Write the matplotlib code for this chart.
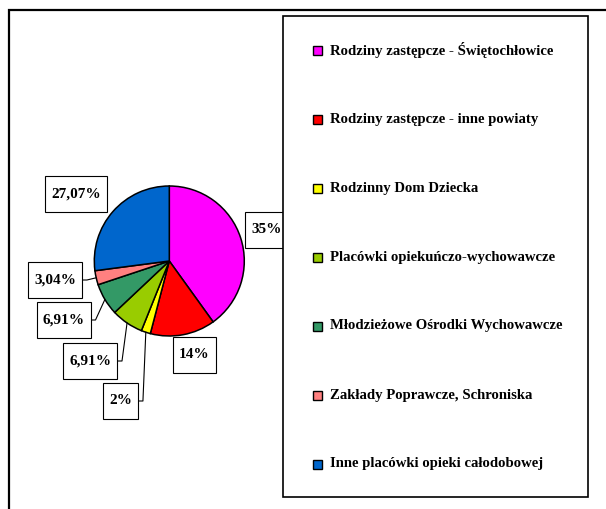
import numpy as np
import matplotlib
matplotlib.use("Agg")
import matplotlib.pyplot as plt
from matplotlib.patches import Rectangle

# slice shares (pie geometry) and the labels printed on the chart
categories = ["Rodziny zastępcze - Świętochłowice",
              "Rodziny zastępcze - inne powiaty",
              "Rodzinny Dom Dziecka",
              "Placówki opiekuńczo-wychowawcze",
              "Młodzieżowe Ośrodki Wychowawcze",
              "Zakłady Poprawcze, Schroniska",
              "Inne placówki opieki całodobowej"]
shares = [40.07, 14, 2, 6.91, 6.91, 3.04, 27.07]
pct_labels = ["35%", "14%", "2%", "6,91%", "6,91%", "3,04%", "27,07%"]
colors = ["#FF00FF", "#FF0000", "#FFFF00", "#99CC00", "#339966", "#FF8080", "#0066CC"]

W, H = 606, 509
font = dict(family="Liberation Serif", weight="bold", size=10.6)
lab_font = dict(family="Liberation Serif", weight="bold", size=11)

fig = plt.figure(figsize=(W/100, H/100), dpi=100)
ax = fig.add_axes([0, 0, 1, 1])

def Y(y):
    return H - y

cx, cy, r = 169.3, Y(261), 75
wedges, _ = ax.pie(shares, colors=colors, startangle=90, counterclock=False,
                   center=(cx, cy), radius=r,
                   wedgeprops=dict(edgecolor="black", linewidth=1.1))
ax.set_xlim(0, W)
ax.set_ylim(0, H)
ax.set_aspect("equal")
ax.axis("off")

# label box centres (pixels from top-left) and whether a leader line is drawn
box_pos = [(266.5, 229.5), (194.5, 354.5), (120.5, 401), (90, 361),
           (63.5, 320), (55, 280), (76, 194)]
leader = [False, False, True, True, True, True, False]

renderer = fig.canvas.get_renderer()
for w, lab, (bx, by), lead in zip(wedges, pct_labels, box_pos, leader):
    t = ax.text(bx, Y(by), lab, ha="center", va="center", zorder=4, **lab_font)
    ext = t.get_window_extent(renderer)
    bw = ext.width + 12
    bh = 36
    ax.add_patch(Rectangle((bx - bw/2, Y(by) - bh/2), bw, bh, facecolor="white",
                           edgecolor="black", linewidth=0.8, zorder=3))
    if lead:
        mid = np.deg2rad((w.theta1 + w.theta2) / 2)
        ex, ey = cx + r*np.cos(mid), cy + r*np.sin(mid)
        right = bx + bw/2
        ax.plot([ex, right + 5, right], [ey, Y(by), Y(by)], color="black",
                linewidth=0.8, zorder=2)

# legend box
ax.add_patch(Rectangle((283, Y(497)), 305, 481, facecolor="white",
                       edgecolor="black", linewidth=1.2, zorder=5))
for i, (name, c) in enumerate(zip(categories, colors)):
    ly = Y(50 + 69*i)
    ax.add_patch(Rectangle((313, ly - 4.5), 9, 9, facecolor=c, edgecolor="black",
                           linewidth=1, zorder=6))
    ax.text(330, ly, name, ha="left", va="center", zorder=6, **font)

# outer chart border (runs off the right and bottom)
ax.add_patch(Rectangle((9, Y(10) - 700), 800, 700, fill=False,
                       edgecolor="black", linewidth=1.6, zorder=1))

fig.savefig("out.png", dpi=100)
